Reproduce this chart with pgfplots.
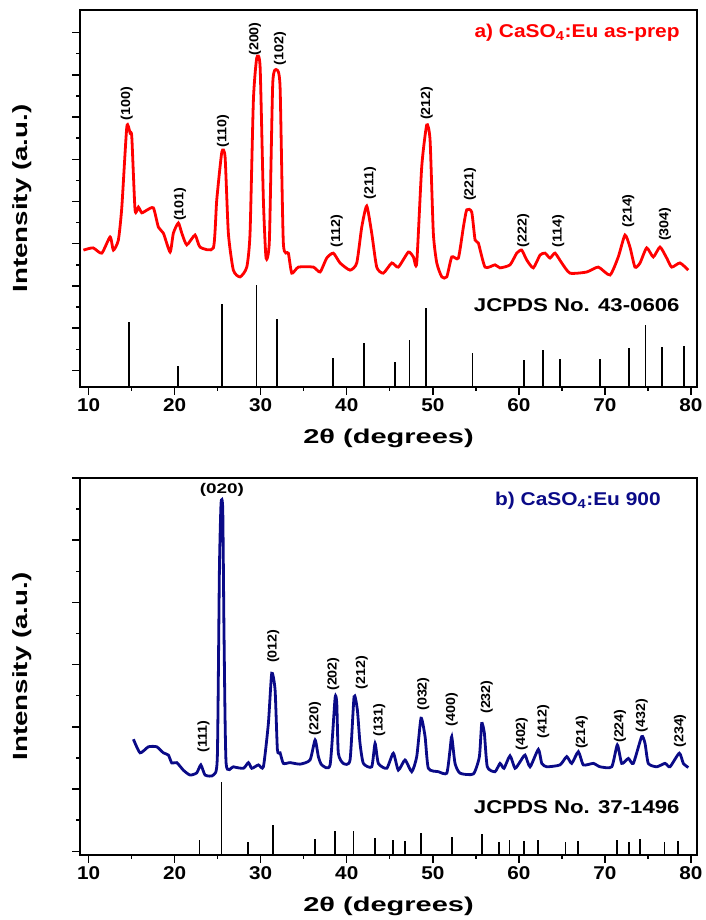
\documentclass[border=0pt]{standalone}
\usepackage{fontspec}
\setmainfont{Liberation Sans}
\usepackage{graphicx}
\usepackage{pgfplots}
\pgfplotsset{compat=1.18}
\definecolor{navy}{RGB}{10,10,135}
\newcommand{\hk}[1]{\scalebox{1.1}[1]{#1}}
\newcommand{\tl}[1]{\scalebox{1.12}[1]{#1}}
\pgfplotsset{
  xrdaxis/.style={
    scale only axis, width=617pt, height=377pt, anchor=south west,
    xmin=9, xmax=80.7, ymin=0, ymax=100,
    axis line style={line width=1.5pt, black},
    xtick={10,20,...,80},
    xticklabels={\tl{10},\tl{20},\tl{30},\tl{40},\tl{50},\tl{60},\tl{70},\tl{80}},
    minor x tick num=1, minor y tick num=1,
    yticklabels={},
    tick align=outside, tick pos=left,
    major tick length=8pt, minor tick length=4pt,
    every tick/.style={line width=1.4pt, black},
    xticklabel style={font=\fontsize{18.5}{18}\selectfont\bfseries, anchor=center, yshift=-10pt},
    xlabel={\scalebox{1.45}[1]{2θ (degrees)}},
    xlabel style={font=\fontsize{20}{24}\selectfont\bfseries, at={(axis description cs:0.5,-0.135)}, anchor=center},
    ylabel={\scalebox{1.35}[1]{Intensity (a.u.)}},
    ylabel style={font=\fontsize{20.5}{24}\selectfont\bfseries, at={(axis description cs:-0.093,0.5)}, anchor=center},
    clip=false,
  }
}
\begin{document}
\begin{tikzpicture}
\useasboundingbox (0,0) rectangle (706pt,920pt);
% ---------------- panel a ----------------
\begin{axis}[xrdaxis, at={(80pt,533pt)},
  ytick={4.4,15.6,26.8,38.0,49.2,60.4,71.6,82.8,94.0}]
\addplot[red, line width=2.8pt, smooth, tension=0.35] coordinates {
(9.40,36.3)(10.52,36.9)(11.53,35.5)(12.50,39.8)(12.88,36.3)(13.46,39.0)(13.86,47.7)
(14.44,69.0)(14.82,67.4)(15.02,66.3)(15.40,46.9)(15.79,47.7)(16.18,46.2)(16.76,46.9)
(17.53,47.5)(18.11,42.4)(18.69,40.8)(19.47,35.8)(19.85,40.8)(20.43,43.5)(20.83,40.8)
(21.41,37.7)(22.37,40.3)(22.95,37.1)(24.50,36.9)(24.89,49.6)(25.48,62.3)(25.86,61.0)
(26.24,40.8)(26.82,31.0)(27.60,29.2)(28.38,31.8)(28.76,40.8)(29.15,76.1)(29.54,87.3)
(29.93,84.9)(30.31,49.6)(30.62,34.2)(31.01,39.0)(31.40,80.6)(31.87,84.1)(32.25,79.6)
(32.63,38.2)(33.21,35.5)(33.61,30.2)(34.38,31.8)(36.12,31.8)(36.90,30.5)(37.67,34.2)
(38.44,35.5)(39.22,32.9)(40.38,31.0)(41.16,32.9)(41.74,42.4)(42.32,48.0)(42.90,40.8)
(43.48,31.8)(44.25,30.2)(45.23,32.9)(45.99,31.8)(47.16,35.8)(47.74,34.5)(48.13,32.9)
(48.71,58.4)(49.29,69.5)(49.68,65.5)(50.06,40.8)(50.46,32.9)(51.04,29.2)(51.62,29.2)
(52.20,34.5)(52.97,34.2)(53.55,42.4)(53.94,47.0)(54.52,46.4)(54.91,39.0)(55.29,38.2)
(56.07,31.8)(57.23,32.4)(57.81,31.6)(58.97,32.4)(59.75,35.5)(60.33,36.3)(60.91,33.7)
(61.68,31.6)(62.46,35.0)(63.04,35.5)(63.62,34.2)(64.20,35.5)(64.98,32.9)(65.94,30.2)
(67.88,30.5)(69.23,31.8)(70.59,29.7)(71.55,34.5)(72.33,40.3)(72.91,37.1)(73.49,31.8)
(74.08,32.9)(74.85,36.9)(75.62,34.5)(76.40,37.1)(77.18,34.2)(77.76,31.8)(78.72,32.9)
(79.69,31.0)
};
\addplot[ycomb, black, line width=1.6pt, mark=none] coordinates {
(14.7,17.2)(20.4,5.5)(25.5,21.9)(29.5,27.1)(31.9,18.0)(38.4,7.8)(42.0,11.6)(45.6,6.5)
(47.3,12.5)(49.2,21.0)(54.6,9.1)(60.6,7.2)(62.8,9.8)(64.8,7.3)(69.4,7.3)(72.8,10.4)
(74.7,16.5)(76.6,10.7)(79.2,11.0)
};
\begin{scope}[every node/.style={rotate=90, font=\fontsize{13}{14}\selectfont\bfseries, inner sep=0pt}]
\node at (axis cs:14.44,75.1) {\hk{(100)}};
\node at (axis cs:20.63,48.5) {\hk{(101)}};
\node at (axis cs:25.63,67.9) {\hk{(110)}};
\node at (axis cs:29.34,92.3) {\hk{(200)}};
\node at (axis cs:32.25,89.7) {\hk{(102)}};
\node at (axis cs:38.84,41.4) {\hk{(112)}};
\node at (axis cs:42.71,54.1) {\hk{(211)}};
\node at (axis cs:49.29,75.3) {\hk{(212)}};
\node at (axis cs:54.32,53.8) {\hk{(221)}};
\node at (axis cs:60.52,41.4) {\hk{(222)}};
\node at (axis cs:64.58,41.4) {\hk{(114)}};
\node at (axis cs:72.72,46.7) {\hk{(214)}};
\node at (axis cs:76.98,43.2) {\hk{(304)}};
\end{scope}
\node[anchor=base east, text=red, font=\fontsize{18.5}{20}\selectfont\bfseries, inner sep=0pt]
  at (axis cs:78.7,92.6) {\scalebox{1.13}[1]{a) CaSO\textsubscript{4}:Eu as-prep}};
\node[anchor=base east, font=\fontsize{18.5}{20}\selectfont\bfseries, inner sep=0pt]
  at (axis cs:78.7,20.0) {\scalebox{1.2}[1]{JCPDS No. 43-0606}};
\end{axis}
% ---------------- panel b ----------------
\begin{axis}[xrdaxis, at={(80pt,65pt)},
  ytick={1.0,17.5,34.0,50.5,67.0,83.5,100}]
\addplot[navy, line width=2.8pt, smooth, tension=0.35] coordinates {
(15.21,30.7)(15.98,27.1)(16.95,28.7)(17.92,28.7)(18.69,27.1)(19.27,26.5)(19.67,24.4)
(20.25,24.5)(21.01,22.5)(21.79,21.2)(22.57,21.8)(23.04,23.9)(23.54,21.2)(24.50,21.2)
(24.96,26.1)(25.20,75.6)(25.39,93.3)(25.59,91.5)(25.74,57.9)(25.98,24.3)(26.82,23.4)
(27.99,23.0)(28.57,24.5)(28.96,23.0)(29.73,23.9)(30.31,23.4)(30.89,34.9)(31.28,48.2)
(31.67,43.8)(31.94,27.9)(32.25,27.1)(32.63,24.3)(33.41,24.5)(34.57,24.1)(35.73,25.2)
(36.32,30.5)(36.70,26.1)(37.09,23.9)(38.06,23.9)(38.64,41.6)(38.84,40.2)(39.02,27.0)
(39.60,24.3)(40.38,25.2)(40.85,42.0)(41.23,38.5)(41.54,29.6)(41.93,24.3)(42.90,23.4)
(43.29,29.6)(43.67,24.3)(44.65,23.0)(45.41,27.0)(45.99,22.5)(46.77,25.2)(47.55,22.1)
(48.13,26.1)(48.63,36.3)(49.10,31.4)(49.48,23.0)(50.64,22.1)(51.62,21.7)(52.00,27.9)
(52.20,31.4)(52.58,24.3)(53.16,21.7)(54.71,21.5)(55.41,26.1)(55.68,34.9)(55.99,32.3)
(56.33,23.4)(57.23,22.1)(57.81,24.3)(58.27,23.0)(58.97,26.3)(59.55,23.0)(60.13,24.7)
(60.72,26.5)(61.30,23.4)(62.26,28.0)(62.66,24.3)(63.24,23.4)(64.78,23.9)(65.56,26.1)
(66.14,24.3)(66.91,27.4)(67.49,23.9)(68.65,24.3)(69.43,23.4)(70.79,23.4)(71.44,29.2)
(71.95,24.3)(72.72,25.6)(73.30,24.3)(74.27,31.4)(74.66,29.6)(75.04,24.3)(76.02,23.4)
(76.98,24.3)(77.56,23.4)(78.64,27.0)(79.11,24.3)(79.69,23.2)
};
\addplot[ycomb, black, line width=1.6pt, mark=none] coordinates {
(22.9,4.0)(25.45,19.3)(28.5,3.5)(31.4,8.0)(36.3,4.3)(38.6,6.4)(40.8,6.4)(43.3,4.5)
(45.4,3.9)(46.8,3.7)(48.6,5.8)(52.2,4.9)(55.7,5.7)(57.7,3.5)(58.9,3.9)(60.6,3.7)
(62.2,4.1)(65.4,3.5)(66.9,3.7)(71.4,4.0)(72.8,3.4)(74.1,4.2)(76.9,3.4)(78.5,3.7)
};
\node[font=\fontsize{14}{15}\selectfont\bfseries, inner sep=0pt] at (axis cs:25.48,96.8) {\scalebox{1.35}[1]{(020)}};
\begin{scope}[every node/.style={rotate=90, font=\fontsize{13}{14}\selectfont\bfseries, inner sep=0pt}]
\node at (axis cs:23.34,31.4) {\hk{(111)}};
\node at (axis cs:31.47,55.4) {\hk{(012)}};
\node at (axis cs:36.32,36.1) {\hk{(220)}};
\node at (axis cs:38.44,48.0) {\hk{(202)}};
\node at (axis cs:41.74,48.3) {\hk{(212)}};
\node at (axis cs:43.79,35.8) {\hk{(131)}};
\node at (axis cs:48.90,42.7) {\hk{(032)}};
\node at (axis cs:52.20,38.5) {\hk{(400)}};
\node at (axis cs:56.27,41.9) {\hk{(232)}};
\node at (axis cs:60.33,32.1) {\hk{(402)}};
\node at (axis cs:62.84,35.3) {\hk{(412)}};
\node at (axis cs:67.30,32.6) {\hk{(214)}};
\node at (axis cs:71.75,34.2) {\hk{(224)}};
\node at (axis cs:74.27,36.9) {\hk{(432)}};
\node at (axis cs:78.72,32.9) {\hk{(234)}};
\end{scope}
\node[anchor=base east, text=navy, font=\fontsize{18.5}{20}\selectfont\bfseries, inner sep=0pt]
  at (axis cs:76.5,92.8) {\scalebox{1.13}[1]{b) CaSO\textsubscript{4}:Eu 900}};
\node[anchor=base east, font=\fontsize{18.5}{20}\selectfont\bfseries, inner sep=0pt]
  at (axis cs:78.7,11.1) {\scalebox{1.2}[1]{JCPDS No. 37-1496}};
\end{axis}
\end{tikzpicture}
\end{document}
